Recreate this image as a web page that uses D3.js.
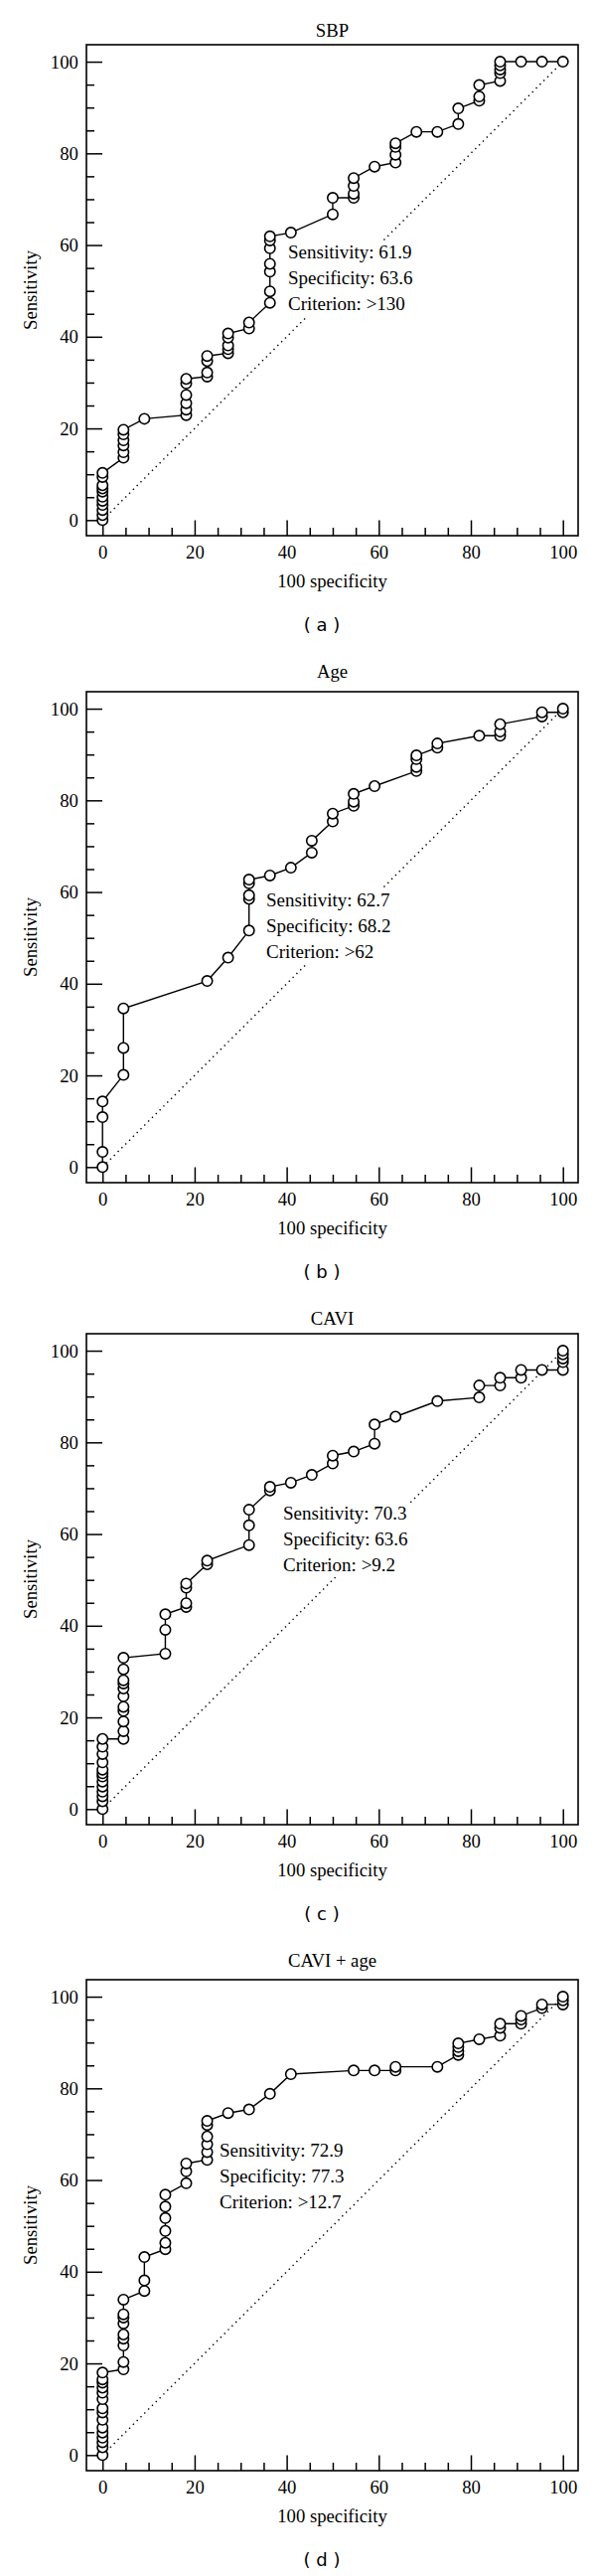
<!DOCTYPE html>
<html><head><meta charset="utf-8">
<script src="https://cdn.jsdelivr.net/npm/d3@7"></script>
<style>body{margin:0;background:#fff} svg{display:block}</style>
</head><body><svg id="c" width="600" height="2592"></svg>
<script>
// ---------- data ----------
const panelTitles = ["SBP", "Age", "CAVI", "CAVI + age"];
const panelCaptions = ["( a )", "( b )", "( c )", "( d )"];
const sensitivityValues = ["61.9", "62.7", "70.3", "72.9"];
const specificityValues = ["63.6", "68.2", "63.6", "77.3"];
const criterionValues = [">130", ">62", ">9.2", ">12.7"];
const xTicks = [0, 20, 40, 60, 80, 100];
const yTicks = [0, 20, 40, 60, 80, 100];
const xLabel = "100 specificity";
const yLabel = "Sensitivity";

const sbpFpr = [0,0,0,0,0,0,0,0,0,0,0, 4.55,4.55,4.55,4.55,4.55,4.55, 9.09,
  18.18,18.18,18.18,18.18,18.18,18.18, 22.73,22.73,22.73,22.73, 27.27,27.27,27.27,27.27,27.27,
  31.82,31.82, 36.36,36.36,36.36,36.36,36.36,36.36,36.36, 40.91, 50,50, 54.55,54.55,54.55,54.55,
  59.09, 63.64,63.64,63.64,63.64, 68.18, 72.73, 77.27,77.27, 81.82,81.82,81.82,
  86.36,86.36,86.36,86.36,86.36, 90.91, 95.45, 100];
const sbpTpr = [0,1.1,2.2,3.3,4.2,5.1,6.2,6.9,7.6,9.4,10.3, 13.6,14.8,16.3,17.4,18.7,19.7, 22.1,
  22.9,24.1,25.5,27.3,29.8,30.8, 31.3,32.2,34.7,35.8, 36.4,37.3,38.1,39.8,40.7,
  41.8,43.1, 47.4,49.9,54.2,55.9,59.3,61.0,61.9, 62.7, 66.7,70.3, 70.3,71.2,72.9,74.6,
  77.1, 78.0,79.7,81.4,82.2, 84.7, 84.7, 86.4,89.8, 91.5,92.4,94.9,
  95.8,97.5,98.3,99.2,100, 100, 100, 100];

const ageFpr = [0,0,0,0, 4.55,4.55,4.55, 22.73, 27.27, 31.82,31.82,31.82,31.82,31.82, 36.36, 40.91,
  45.45,45.45, 50,50, 54.55,54.55,54.55, 59.09, 68.18,68.18,68.18,68.18, 72.73,72.73, 81.82,
  86.36,86.36,86.36, 95.45,95.45, 100,100];
const ageTpr = [0,3.3,10.9,14.3, 20.1,26.0,34.6, 40.6, 45.7, 51.6,58.5,59.3,61.9,62.7, 63.6, 65.3,
  68.6,71.2, 75.4,77.1, 78.8,79.7,81.4, 83.1, 86.4,87.3,89.0,89.8, 91.5,92.4, 94.1,
  94.1,95.0,96.6, 98.3,99.2, 99.2,100];

const caviFpr = [0,0,0,0,0,0,0,0,0,0,0,0,0, 4.55,4.55,4.55,4.55,4.55,4.55,4.55,4.55,4.55,4.55,4.55,
  13.64,13.64,13.64, 18.18,18.18,18.18,18.18, 22.73,22.73, 31.82,31.82,31.82, 36.36,36.36, 40.91, 45.45,
  50,50, 54.55, 59.09,59.09, 63.64, 72.73, 81.82,81.82, 86.36,86.36, 90.91,90.91, 95.45,
  100,100,100,100,100];
const caviTpr = [0,1.7,2.8,3.8,4.9,6.0,7.1,7.8,8.6,10.2,12.0,13.6,15.3, 15.3,17.0,19.1,21.4,22.3,24.6,26.3,27.4,28.1,30.5,33.0,
  33.9,39.1,42.5, 44.1,44.9,48.3,49.2, 53.4,54.2, 57.6,61.9,65.3, 69.5,70.3, 71.2, 72.9,
  75.4,77.1, 78.0, 79.7,83.9, 85.6, 89.0, 89.8,92.4, 92.4,94.1, 94.1,95.8, 95.8,
  95.8,97.5,98.3,99.2,100];

const caviAgeFpr = [0,0,0,0,0,0,0,0,0,0,0,0,0,0,0, 4.55,4.55,4.55,4.55,4.55,4.55,4.55,4.55,4.55,
  9.09,9.09,9.09, 13.64,13.64,13.64,13.64,13.64,13.64, 18.18,18.18,18.18, 22.73,22.73,22.73,22.73,22.73,22.73,
  27.27, 31.82, 36.36, 40.91, 54.55, 59.09, 63.64,63.64, 72.73, 77.27,77.27,77.27,77.27, 81.82,
  86.36,86.36,86.36, 90.91,90.91,90.91, 95.45,95.45, 100,100,100];
const caviAgeTpr = [0,1.7,2.8,3.8,4.9,6.0,7.7,9.3,10.2,12.2,13.6,14.7,15.8,16.5,18.0, 18.7,20.3,23.9,25.4,26.3,28.7,30.0,30.7,33.9,
  35.8,38.1,43.2, 44.9,46.3,48.9,51.7,54.2,56.8, 59.3,61.9,63.6, 64.4,66.1,67.8,69.5,72.0,72.9,
  74.6, 75.4, 78.8, 83.1, 83.9, 83.9, 83.9,84.7, 84.7, 87.3,88.1,89.0,89.8, 90.7,
  91.5,93.2,94.1, 94.1,95.0,95.8, 97.5,98.3, 98.3,99.2,100];

const seriesFpr = [sbpFpr, ageFpr, caviFpr, caviAgeFpr];
const seriesTpr = [sbpTpr, ageTpr, caviTpr, caviAgeTpr];

// ---------- layout ----------
const SERIF = "'Liberation Serif', 'Times New Roman', serif";
const SANS = "'DejaVu Sans', sans-serif";
const frameLeft = 87, frameRight = 582, frameH = 494;
const panelTops = [45, 696, 1342, 1992];
const titleBaselines = [-8.5, -14, -8.7, -12.7];
const annoLeft = [290, 268, 285, 221];
const annoFirstCenter = [209, 210, 181, 172];
const annoStep = 26;

const svg = d3.select("#c");
svg.append("rect").attr("width", 600).attr("height", 2592).attr("fill", "#fff");

const x = d3.scaleLinear().domain([-3.5, 103.3]).range([frameLeft, frameRight]);
const y = d3.scaleLinear().domain([-3.4, 103.7]).range([frameH, 0]);
const minorTicks = d3.range(0, 101, 5).filter(v => v % 20 !== 0);

panelTitles.forEach((title, i) => {
  const g = svg.append("g").attr("transform", `translate(0,${panelTops[i]})`);

  // frame
  g.append("rect").attr("x", frameLeft).attr("y", 0)
    .attr("width", frameRight - frameLeft).attr("height", frameH)
    .attr("fill", "none").attr("stroke", "#000").attr("stroke-width", 1.6);

  // x axis (ticks pointing inward)
  const xa = g.append("g").attr("transform", `translate(0,${frameH})`)
    .call(d3.axisBottom(x).tickValues(xTicks).tickSizeInner(-15.5).tickSizeOuter(0).tickPadding(9.5));
  const xm = g.append("g").attr("transform", `translate(0,${frameH})`)
    .call(d3.axisBottom(x).tickValues(minorTicks).tickSizeInner(-8).tickSizeOuter(0).tickFormat(() => ""));
  // y axis
  const ya = g.append("g").attr("transform", `translate(${frameLeft},0)`)
    .call(d3.axisLeft(y).tickValues(yTicks).tickSizeInner(-16).tickSizeOuter(0).tickPadding(8.2));
  const ym = g.append("g").attr("transform", `translate(${frameLeft},0)`)
    .call(d3.axisLeft(y).tickValues(minorTicks).tickSizeInner(-8).tickSizeOuter(0).tickFormat(() => ""));
  [xa, xm, ya, ym].forEach(a => {
    a.select(".domain").remove();
    a.selectAll("line").attr("stroke", "#000").attr("stroke-width", 1.5);
    a.selectAll("text").attr("font-family", SERIF).attr("font-size", 18.7).attr("fill", "#000");
  });

  // diagonal reference line
  g.append("line")
    .attr("x1", x(0)).attr("y1", y(0)).attr("x2", x(100)).attr("y2", y(100))
    .attr("stroke", "#000").attr("stroke-width", 1.4).attr("stroke-dasharray", "1.4,4");

  // annotation with white background
  const ag = g.append("g");
  const bg = ag.append("rect").attr("fill", "#fff");
  const lines = [`Sensitivity: ${sensitivityValues[i]}`, `Specificity: ${specificityValues[i]}`, `Criterion: ${criterionValues[i]}`];
  const texts = ag.selectAll("text").data(lines).join("text")
    .attr("x", annoLeft[i])
    .attr("y", (d, k) => annoFirstCenter[i] + k * annoStep + 6.3)
    .attr("font-family", SERIF).attr("font-size", 19).attr("fill", "#000")
    .text(d => d);
  let maxW = 0;
  texts.each(function () { maxW = Math.max(maxW, this.getComputedTextLength()); });
  bg.attr("x", annoLeft[i] - 2).attr("y", annoFirstCenter[i] - 12)
    .attr("width", maxW + 3).attr("height", annoStep * 2 + 24);

  // ROC curve
  const pts = seriesFpr[i].map((v, k) => [v, seriesTpr[i][k]]);
  g.append("path").datum(pts)
    .attr("d", d3.line().x(d => x(d[0])).y(d => y(d[1])))
    .attr("fill", "none").attr("stroke", "#000").attr("stroke-width", 1.4);
  g.selectAll("circle.pt").data(pts).join("circle").attr("class", "pt")
    .attr("cx", d => x(d[0])).attr("cy", d => y(d[1])).attr("r", 5.2)
    .attr("fill", "#fff").attr("stroke", "#000").attr("stroke-width", 1.6);

  // titles and labels
  g.append("text").attr("x", (frameLeft + frameRight) / 2).attr("y", titleBaselines[i])
    .attr("text-anchor", "middle").attr("font-family", SERIF).attr("font-size", 18.7).text(title);
  g.append("text").attr("x", (frameLeft + frameRight) / 2).attr("y", frameH + 52)
    .attr("text-anchor", "middle").attr("font-family", SERIF).attr("font-size", 18.7).text(xLabel);
  g.append("text").attr("transform", `translate(36.6,${frameH / 2}) rotate(-90)`)
    .attr("text-anchor", "middle").attr("font-family", SERIF).attr("font-size", 18.7).text(yLabel);
  g.append("text").attr("x", 324).attr("y", 590)
    .attr("text-anchor", "middle").attr("font-family", SANS).attr("font-size", 18).text(panelCaptions[i]);
});
</script>
</body></html>
